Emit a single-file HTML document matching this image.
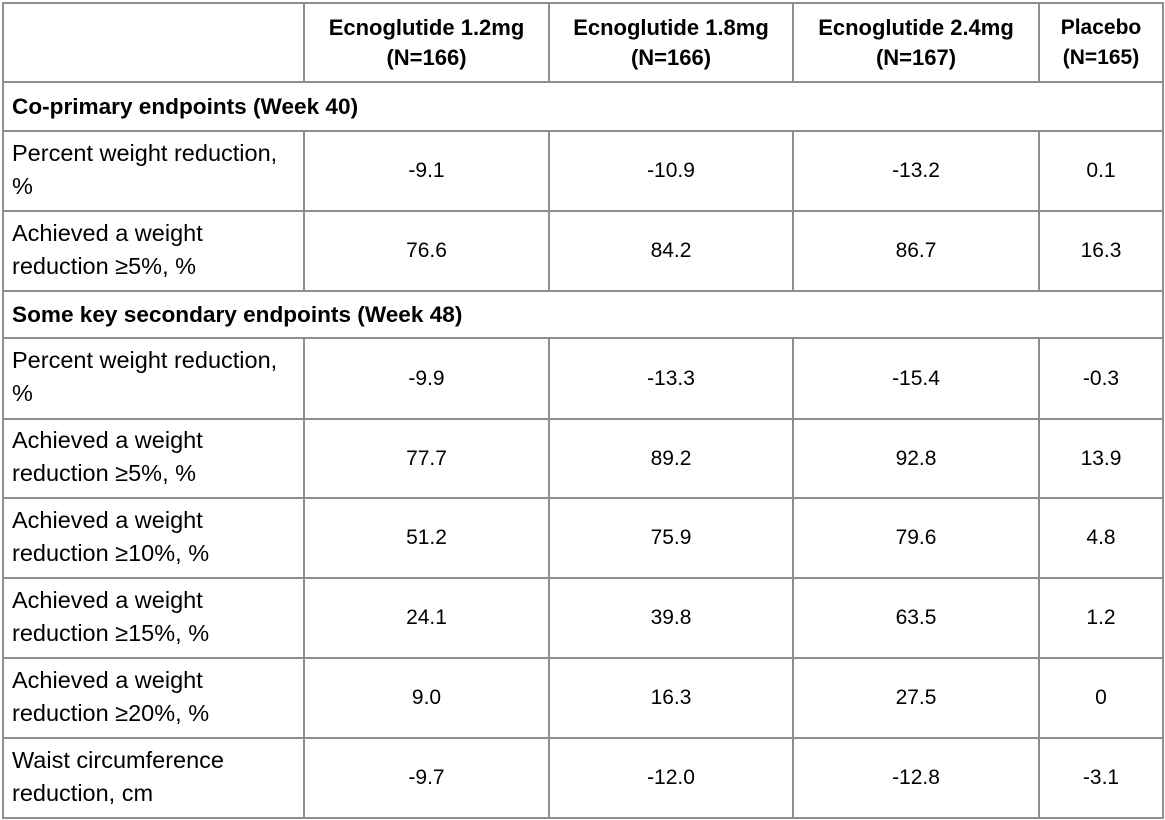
<!DOCTYPE html>
<html>
<head>
<meta charset="utf-8">
<style>
  html, body { margin:0; padding:0; background:#fff; }
  body { width:1165px; height:820px; position:relative; overflow:hidden;
         font-family:"Liberation Sans", Arial, sans-serif; color:#000; }
  .h { position:absolute; height:2px; background:#8e8e8e; }
  .v { position:absolute; width:2px; background:#8e8e8e; }
  .cell { position:absolute; display:flex; align-items:center; box-sizing:border-box; }
  .lab { left:4px; width:298px; padding-left:8px; font-size:23.5px; line-height:33px; padding-bottom:3px; }
  .num { justify-content:center; font-size:21px; text-align:center; }
  .hd { justify-content:center; text-align:center; font-weight:bold; font-size:22px; line-height:29.5px; }
  .sec { left:4px; width:1150px; padding-left:8px; font-weight:bold; font-size:22.6px; }
  .c1 { left:305px; width:243px; }
  .c2 { left:550px; width:242px; }
  .c3 { left:794px; width:244px; }
  .c4 { left:1040px; width:122px; }
</style>
</head>
<body>
<!-- horizontal lines -->
<div class="h" style="left:2px;width:1162px;top:2px;"></div>
<div class="h" style="left:2px;width:1162px;top:81px;"></div>
<div class="h" style="left:2px;width:1162px;top:130px;"></div>
<div class="h" style="left:2px;width:1162px;top:210px;"></div>
<div class="h" style="left:2px;width:1162px;top:290px;"></div>
<div class="h" style="left:2px;width:1162px;top:337px;"></div>
<div class="h" style="left:2px;width:1162px;top:418px;"></div>
<div class="h" style="left:2px;width:1162px;top:497px;"></div>
<div class="h" style="left:2px;width:1162px;top:577px;"></div>
<div class="h" style="left:2px;width:1162px;top:657px;"></div>
<div class="h" style="left:2px;width:1162px;top:737px;"></div>
<div class="h" style="left:2px;width:1162px;top:817px;"></div>
<!-- outer verticals -->
<div class="v" style="left:2px;top:2px;height:817px;"></div>
<div class="v" style="left:1162px;top:2px;height:817px;"></div>
<!-- inner verticals: header -->
<div class="v" style="left:303px;top:2px;height:80px;"></div>
<div class="v" style="left:548px;top:2px;height:80px;"></div>
<div class="v" style="left:792px;top:2px;height:80px;"></div>
<div class="v" style="left:1038px;top:2px;height:80px;"></div>
<!-- inner verticals: block 1 -->
<div class="v" style="left:303px;top:130px;height:162px;"></div>
<div class="v" style="left:548px;top:130px;height:162px;"></div>
<div class="v" style="left:792px;top:130px;height:162px;"></div>
<div class="v" style="left:1038px;top:130px;height:162px;"></div>
<!-- inner verticals: block 2 -->
<div class="v" style="left:303px;top:337px;height:482px;"></div>
<div class="v" style="left:548px;top:337px;height:482px;"></div>
<div class="v" style="left:792px;top:337px;height:482px;"></div>
<div class="v" style="left:1038px;top:337px;height:482px;"></div>

<!-- header -->
<div class="cell hd c1" style="top:3px;height:79px;">Ecnoglutide 1.2mg<br>(N=166)</div>
<div class="cell hd c2" style="top:3px;height:79px;">Ecnoglutide 1.8mg<br>(N=166)</div>
<div class="cell hd c3" style="top:3px;height:79px;">Ecnoglutide 2.4mg<br>(N=167)</div>
<div class="cell hd c4" style="top:3px;height:79px;font-size:21px;">Placebo<br>(N=165)</div>

<!-- section 1 -->
<div class="cell sec" style="top:82px;height:49px;">Co-primary endpoints (Week 40)</div>

<!-- row: 131-211 -->
<div class="cell lab" style="top:131px;height:80px;">Percent weight reduction,<br>%</div>
<div class="cell num c1" style="top:131px;height:80px;">-9.1</div>
<div class="cell num c2" style="top:131px;height:80px;">-10.9</div>
<div class="cell num c3" style="top:131px;height:80px;">-13.2</div>
<div class="cell num c4" style="top:131px;height:80px;">0.1</div>

<!-- row: 211-291 -->
<div class="cell lab" style="top:211px;height:80px;">Achieved a weight<br>reduction ≥5%, %</div>
<div class="cell num c1" style="top:211px;height:80px;">76.6</div>
<div class="cell num c2" style="top:211px;height:80px;">84.2</div>
<div class="cell num c3" style="top:211px;height:80px;">86.7</div>
<div class="cell num c4" style="top:211px;height:80px;">16.3</div>

<!-- section 2 -->
<div class="cell sec" style="top:291px;height:47px;">Some key secondary endpoints (Week 48)</div>

<!-- row: 338-419 -->
<div class="cell lab" style="top:338px;height:81px;">Percent weight reduction,<br>%</div>
<div class="cell num c1" style="top:338px;height:81px;">-9.9</div>
<div class="cell num c2" style="top:338px;height:81px;">-13.3</div>
<div class="cell num c3" style="top:338px;height:81px;">-15.4</div>
<div class="cell num c4" style="top:338px;height:81px;">-0.3</div>

<!-- row: 419-498 -->
<div class="cell lab" style="top:419px;height:79px;">Achieved a weight<br>reduction ≥5%, %</div>
<div class="cell num c1" style="top:419px;height:79px;">77.7</div>
<div class="cell num c2" style="top:419px;height:79px;">89.2</div>
<div class="cell num c3" style="top:419px;height:79px;">92.8</div>
<div class="cell num c4" style="top:419px;height:79px;">13.9</div>

<!-- row: 498-578 -->
<div class="cell lab" style="top:498px;height:80px;">Achieved a weight<br>reduction ≥10%, %</div>
<div class="cell num c1" style="top:498px;height:80px;">51.2</div>
<div class="cell num c2" style="top:498px;height:80px;">75.9</div>
<div class="cell num c3" style="top:498px;height:80px;">79.6</div>
<div class="cell num c4" style="top:498px;height:80px;">4.8</div>

<!-- row: 578-658 -->
<div class="cell lab" style="top:578px;height:80px;">Achieved a weight<br>reduction ≥15%, %</div>
<div class="cell num c1" style="top:578px;height:80px;">24.1</div>
<div class="cell num c2" style="top:578px;height:80px;">39.8</div>
<div class="cell num c3" style="top:578px;height:80px;">63.5</div>
<div class="cell num c4" style="top:578px;height:80px;">1.2</div>

<!-- row: 658-738 -->
<div class="cell lab" style="top:658px;height:80px;">Achieved a weight<br>reduction ≥20%, %</div>
<div class="cell num c1" style="top:658px;height:80px;">9.0</div>
<div class="cell num c2" style="top:658px;height:80px;">16.3</div>
<div class="cell num c3" style="top:658px;height:80px;">27.5</div>
<div class="cell num c4" style="top:658px;height:80px;">0</div>

<!-- row: 738-818 -->
<div class="cell lab" style="top:738px;height:80px;">Waist circumference<br>reduction, cm</div>
<div class="cell num c1" style="top:738px;height:80px;">-9.7</div>
<div class="cell num c2" style="top:738px;height:80px;">-12.0</div>
<div class="cell num c3" style="top:738px;height:80px;">-12.8</div>
<div class="cell num c4" style="top:738px;height:80px;">-3.1</div>
</body>
</html>
